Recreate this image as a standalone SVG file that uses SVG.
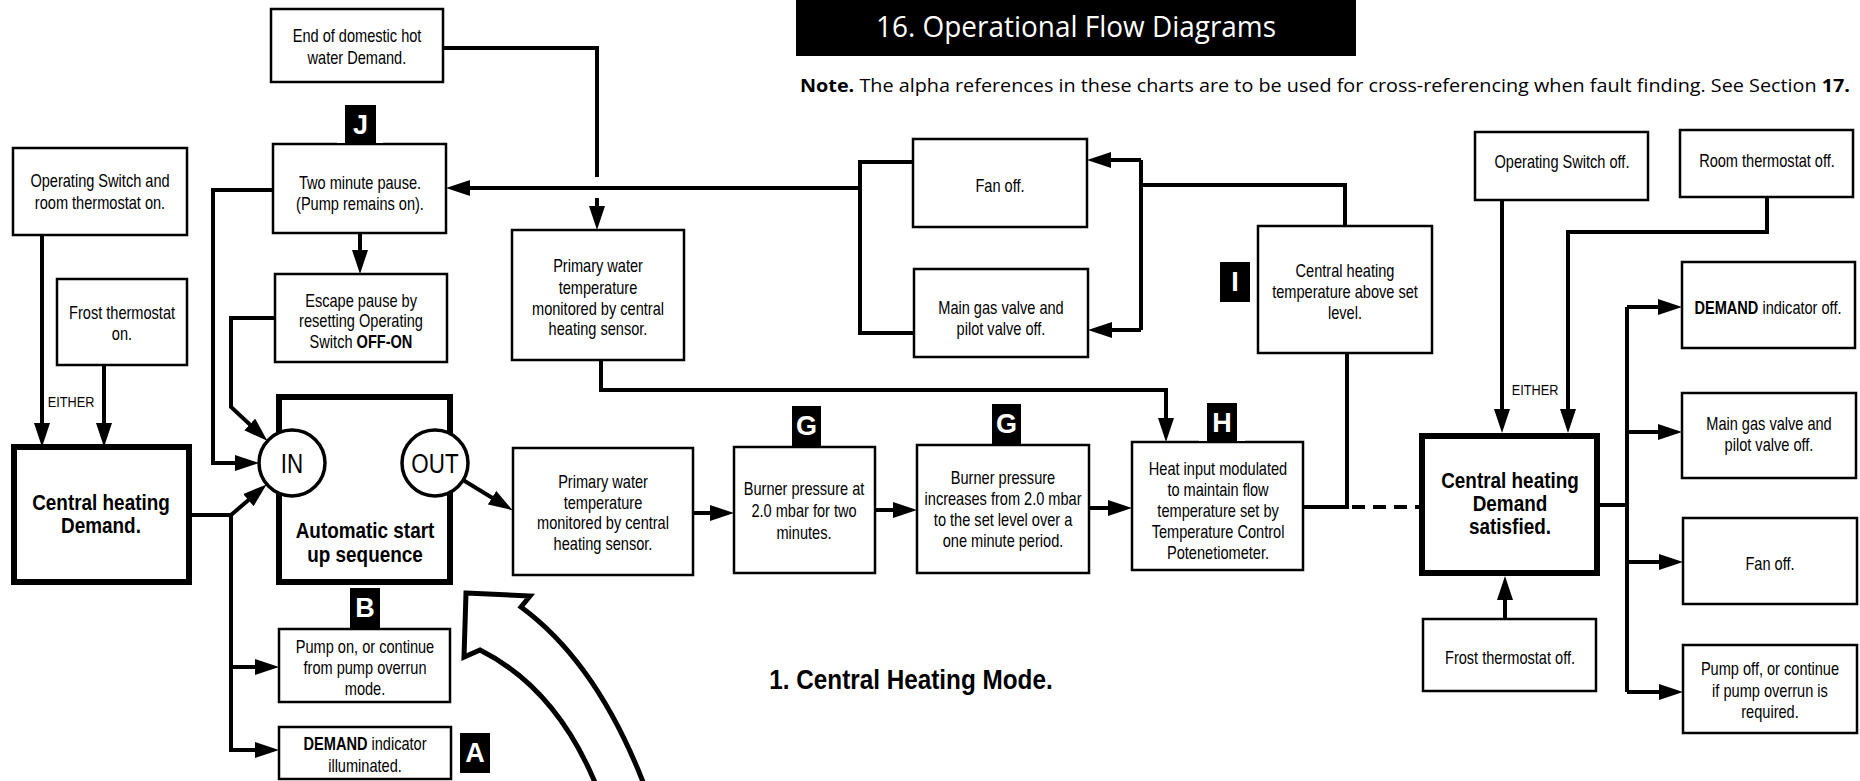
<svg xmlns="http://www.w3.org/2000/svg" width="1860" height="781" viewBox="0 0 1860 781">
<defs>
<marker id="ah" viewBox="0 0 24 16" refX="14" refY="8" markerWidth="24" markerHeight="16" markerUnits="userSpaceOnUse" orient="auto"><path d="M0,0 L24,8 L0,16 Z" fill="#000"/></marker>
<style>
.bx{fill:#fff;stroke:#000;stroke-width:2.5}
.bk{fill:#fff;stroke:#000;stroke-width:6}
.t{font-family:"Liberation Sans",Arial,sans-serif;font-size:18px;text-anchor:middle;dominant-baseline:central;fill:#000;transform-box:fill-box;transform-origin:center;transform:scaleX(.81)}
.tb{font-family:"Liberation Sans",Arial,sans-serif;font-size:22px;font-weight:bold;text-anchor:middle;dominant-baseline:central;fill:#000;transform-box:fill-box;transform-origin:center;transform:scaleX(.86)}
.b{font-weight:bold}
.c{fill:none;stroke:#000;stroke-width:4}
.a{fill:none;stroke:#000;stroke-width:4;marker-end:url(#ah)}
.d{fill:none;stroke:#000;stroke-width:4;stroke-dasharray:13 8}
.pad{fill:#fff}
.lb{fill:#000}
.lt{font-family:"Liberation Sans",Arial,sans-serif;font-size:27px;font-weight:bold;fill:#fff;text-anchor:middle;dominant-baseline:central}
.ci{fill:#fff;stroke:#000;stroke-width:3.5}
.io{font-family:"Liberation Sans",Arial,sans-serif;font-size:28px;text-anchor:middle;dominant-baseline:central;transform-box:fill-box;transform-origin:center;transform:scaleX(.8)}
.ei{font-family:"Liberation Sans",Arial,sans-serif;font-size:15px;text-anchor:middle;dominant-baseline:central;transform-box:fill-box;transform-origin:center;transform:scaleX(.85)}
.ml{font-family:"Liberation Sans",Arial,sans-serif;font-size:27px;font-weight:bold;text-anchor:middle;dominant-baseline:central;transform-box:fill-box;transform-origin:center;transform:scaleX(.9)}
</style>
</defs>
<rect width="1860" height="781" fill="#fff"/>

<g id="header">
<rect x="796" y="0" width="560" height="56" fill="#000"/>
<text x="1076" y="37" font-family="'Open Sans',sans-serif" font-size="30" fill="#fff" text-anchor="middle" textLength="400" lengthAdjust="spacingAndGlyphs">16. Operational Flow Diagrams</text>
<text x="800" y="92" font-family="'Open Sans',sans-serif" font-size="18.5" fill="#000" textLength="1050" lengthAdjust="spacingAndGlyphs"><tspan font-weight="bold">Note.</tspan>  The alpha references in these charts are to be used for cross-referencing when fault finding. See Section <tspan font-weight="bold">17.</tspan></text>
</g>

<g id="connectors">
<path class="c" d="M443,48 H597 V177"/>
<path class="a" d="M597,198 V220"/>
<path class="a" d="M860,188 H456"/>
<path class="c" d="M913,162 H860 V333 H914"/>
<path class="c" d="M1141,160 V330"/>
<path class="a" d="M1141,160 H1097"/>
<path class="a" d="M1141,330 H1098"/>
<path class="c" d="M1345,226 V185 H1141"/>
<path class="a" d="M601,360 V390 H1166 V432"/>
<path class="a" d="M273,190 H213 V463 H249"/>
<path class="a" d="M275,318 H231 V407 L260,434"/>
<path class="a" d="M360,233 V264"/>
<path class="a" d="M189,515 H231 L259,491"/>
<path class="a" d="M231,515 V750 H269"/>
<path class="a" d="M231,667 H269"/>
<path class="a" d="M463,480 L504,505"/>
<path class="a" d="M693,513 H724"/>
<path class="a" d="M875,510 H907"/>
<path class="a" d="M1089,508 H1122"/>
<path class="c" d="M1303,507 H1347 V353"/>
<path class="d" d="M1352,507 H1422"/>
<path class="a" d="M42,235 V437"/>
<path class="a" d="M104,365 V437"/>
<path class="a" d="M1502,200 V423"/>
<path class="a" d="M1767,197 V232 H1568 V423"/>
<path class="a" d="M1505,619 V586"/>
<path class="c" d="M1597,505 H1627"/>
<path class="c" d="M1627,307 V692"/>
<path class="a" d="M1627,307 H1672"/>
<path class="a" d="M1627,432 H1672"/>
<path class="a" d="M1627,562 H1673"/>
<path class="a" d="M1627,692 H1673"/>
<text class="ei" x="71" y="402">EITHER</text>
<text class="ei" x="1535" y="390">EITHER</text>
</g>

<g id="big-arrow">
<path d="M466,593 L530,596 L521,607 Q600,665 648,795 L600,795 Q560,690 480,650 L464,657 Z" fill="#fff" stroke="#000" stroke-width="5" stroke-linejoin="miter"/>
</g>

<g id="n-end">
<rect class="bx" x="271" y="9" width="172" height="73"/>
<text class="t" x="357" y="35">End of domestic hot</text>
<text class="t" x="357" y="57">water Demand.</text>
</g>

<g id="n-opon">
<rect class="bx" x="13" y="148" width="174" height="87"/>
<text class="t" x="100" y="180">Operating Switch and</text>
<text class="t" x="100" y="202">room thermostat on.</text>
</g>

<g id="n-froston">
<rect class="bx" x="57" y="279" width="130" height="86"/>
<text class="t" x="122" y="312">Frost thermostat</text>
<text class="t" x="122" y="333">on.</text>
</g>

<g id="n-chd">
<rect class="bk" x="14" y="447" width="175" height="135"/>
<text class="tb" x="101" y="502">Central heating</text>
<text class="tb" x="101" y="525">Demand.</text>
</g>

<g id="n-twomin">
<rect class="bx" x="273" y="144" width="173" height="89"/>
<text class="t" x="360" y="182">Two minute pause.</text>
<text class="t" x="360" y="203" fill="#222">(Pump remains on).</text>
<rect class="pad" x="337" y="105" width="46" height="38"/>
<rect class="lb" x="345" y="105" width="31" height="40"/>
<text class="lt" x="360.5" y="125">J</text>
</g>

<g id="n-escape">
<rect class="bx" x="275" y="274" width="172" height="88"/>
<text class="t" x="361" y="300">Escape pause by</text>
<text class="t" x="361" y="320">resetting Operating</text>
<text class="t" x="361" y="341">Switch <tspan class="b">OFF-ON</tspan></text>
</g>

<g id="n-auto">
<rect class="bk" x="279" y="397" width="171" height="185"/>
<circle class="ci" cx="292" cy="463" r="33"/>
<circle class="ci" cx="435" cy="463" r="33"/>
<text class="io" x="292" y="463">IN</text>
<text class="io" x="435" y="463">OUT</text>
<text class="tb" x="365" y="530">Automatic start</text>
<text class="tb" x="365" y="554">up sequence</text>
</g>

<g id="n-pumpon">
<rect class="bx" x="279" y="629" width="171" height="73"/>
<text class="t" x="365" y="646">Pump on, or continue</text>
<text class="t" x="365" y="667">from pump overrun</text>
<text class="t" x="365" y="688">mode.</text>
<rect class="pad" x="342" y="588" width="46" height="39"/>
<rect class="lb" x="350" y="588" width="30" height="40"/>
<text class="lt" x="365" y="608">B</text>
</g>

<g id="n-demand">
<rect class="bx" x="279" y="727" width="172" height="52"/>
<text class="t" x="365" y="743"><tspan class="b">DEMAND</tspan> indicator</text>
<text class="t" x="365" y="765">illuminated.</text>
<rect class="lb" x="460" y="733" width="30" height="40"/>
<text class="lt" x="475" y="753">A</text>
</g>

<g id="n-prim-up">
<rect class="bx" x="512" y="230" width="172" height="130"/>
<text class="t" x="598" y="265">Primary water</text>
<text class="t" x="598" y="287">temperature</text>
<text class="t" x="598" y="308">monitored by central</text>
<text class="t" x="598" y="328">heating sensor.</text>
</g>

<g id="n-prim-low">
<rect class="bx" x="513" y="448" width="180" height="127"/>
<text class="t" x="603" y="481">Primary water</text>
<text class="t" x="603" y="502">temperature</text>
<text class="t" x="603" y="522">monitored by central</text>
<text class="t" x="603" y="543">heating sensor.</text>
</g>

<g id="n-burner1">
<rect class="bx" x="734" y="447" width="141" height="126"/>
<text class="t" x="804" y="488">Burner pressure at</text>
<text class="t" x="804" y="510">2.0 mbar for two</text>
<text class="t" x="804" y="532">minutes.</text>
<rect class="pad" x="785" y="406" width="43" height="39"/>
<rect class="lb" x="792" y="406" width="29" height="40"/>
<text class="lt" x="806.5" y="426">G</text>
</g>

<g id="n-burner2">
<rect class="bx" x="917" y="445" width="172" height="128"/>
<text class="t" x="1003" y="477">Burner pressure</text>
<text class="t" x="1003" y="498">increases from 2.0 mbar</text>
<text class="t" x="1003" y="519">to the set level over a</text>
<text class="t" x="1003" y="540">one minute period.</text>
<rect class="pad" x="985" y="404" width="43" height="39"/>
<rect class="lb" x="992" y="404" width="29" height="40"/>
<text class="lt" x="1006.5" y="424">G</text>
</g>

<g id="n-heat">
<rect class="bx" x="1132" y="442" width="171" height="128"/>
<text class="t" x="1218" y="468">Heat input modulated</text>
<text class="t" x="1218" y="489">to maintain flow</text>
<text class="t" x="1218" y="510">temperature set by</text>
<text class="t" x="1218" y="531">Temperature Control</text>
<text class="t" x="1218" y="552">Potenetiometer.</text>
<rect class="pad" x="1199" y="403" width="46" height="38"/>
<rect class="lb" x="1207" y="403" width="30" height="40"/>
<text class="lt" x="1222" y="423">H</text>
</g>

<g id="n-fan1">
<rect class="bx" x="913" y="139" width="174" height="88"/>
<text class="t" x="1000" y="185">Fan off.</text>
</g>

<g id="n-gas1">
<rect class="bx" x="914" y="269" width="174" height="88"/>
<text class="t" x="1001" y="307">Main gas valve and</text>
<text class="t" x="1001" y="328">pilot valve off.</text>
</g>

<g id="n-chtemp">
<rect class="bx" x="1258" y="226" width="174" height="127"/>
<text class="t" x="1345" y="270">Central heating</text>
<text class="t" x="1345" y="291">temperature above set</text>
<text class="t" x="1345" y="312">level.</text>
<rect class="lb" x="1220" y="262" width="30" height="40"/>
<text class="lt" x="1235" y="282">I</text>
</g>

<g id="n-chsat">
<rect class="bk" x="1422" y="436" width="175" height="137"/>
<text class="tb" x="1510" y="480">Central heating</text>
<text class="tb" x="1510" y="503">Demand</text>
<text class="tb" x="1510" y="526">satisfied.</text>
</g>

<g id="n-frostoff">
<rect class="bx" x="1423" y="619" width="173" height="72"/>
<text class="t" x="1510" y="657">Frost thermostat off.</text>
</g>

<g id="n-opoff">
<rect class="bx" x="1475" y="132" width="173" height="68"/>
<text class="t" x="1562" y="161">Operating Switch off.</text>
</g>

<g id="n-roomoff">
<rect class="bx" x="1680" y="130" width="173" height="67"/>
<text class="t" x="1767" y="160">Room thermostat off.</text>
</g>

<g id="n-demandoff">
<rect class="bx" x="1682" y="262" width="173" height="86"/>
<text class="t" x="1768" y="307"><tspan class="b">DEMAND</tspan> indicator off.</text>
</g>

<g id="n-gas2">
<rect class="bx" x="1682" y="393" width="174" height="85"/>
<text class="t" x="1769" y="423">Main gas valve and</text>
<text class="t" x="1769" y="444">pilot valve off.</text>
</g>

<g id="n-fan2">
<rect class="bx" x="1683" y="518" width="174" height="86"/>
<text class="t" x="1770" y="563">Fan off.</text>
</g>

<g id="n-pumpoff">
<rect class="bx" x="1683" y="645" width="174" height="88"/>
<text class="t" x="1770" y="668">Pump off, or continue</text>
<text class="t" x="1770" y="690">if pump overrun is</text>
<text class="t" x="1770" y="711">required.</text>
</g>

<g id="mode-label">
<text class="ml" x="911" y="680">1. Central Heating Mode.</text>
</g>
</svg>
